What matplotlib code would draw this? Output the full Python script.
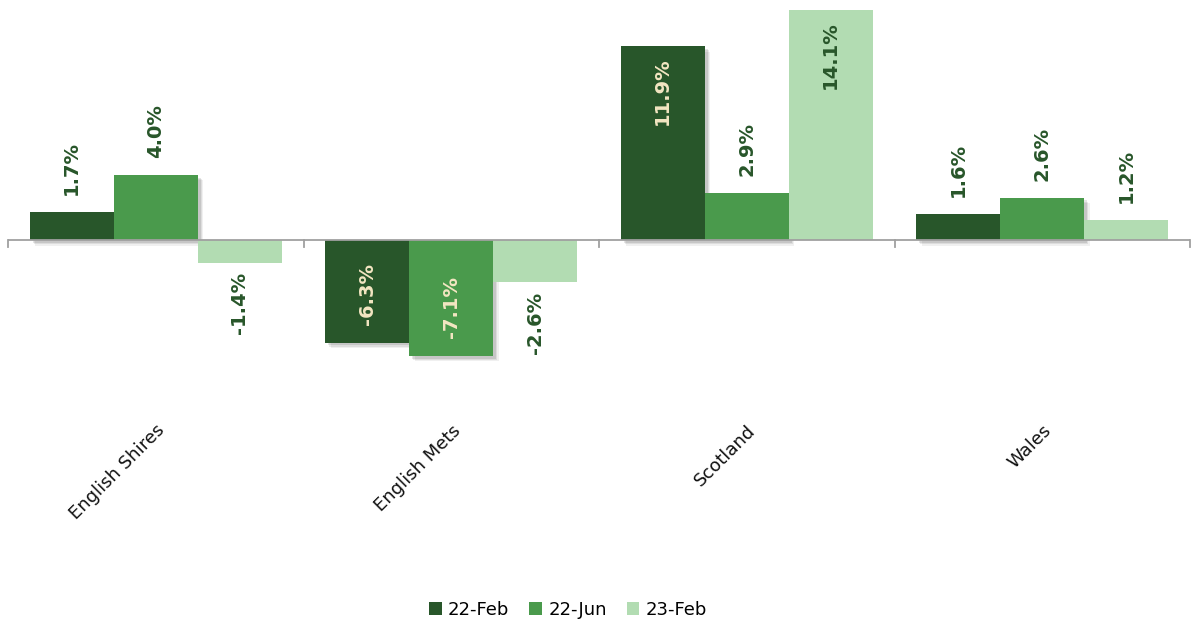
import matplotlib
matplotlib.use("Agg")
import matplotlib.pyplot as plt
import matplotlib.patheffects as pe
import numpy as np

categories = ["English Shires", "English Mets", "Scotland", "Wales"]
series_names = ["22-Feb", "22-Jun", "23-Feb"]
feb22 = [1.7, -6.3, 11.9, 1.6]
jun22 = [4.0, -7.1, 2.9, 2.6]
feb23 = [-1.4, -2.6, 14.1, 1.2]
series_values = [feb22, jun22, feb23]

colors = ["#28562a", "#4a9a4c", "#b2dcb2"]
label_dark = "#28562a"
label_cream = "#f3e6c2"

W, H = 1192, 623
fig = plt.figure(figsize=(W / 100, H / 100), dpi=100)
px_per = 16.3
top_px, bot_px = 0, 420
ymax = 240 / px_per
ymin = -(bot_px - 240) / px_per
ax = fig.add_axes([8 / W, 1 - bot_px / H, (1190 - 8) / W, (bot_px - top_px) / H])
ax.set_xlim(-0.5, 3.5)
ax.set_ylim(ymin, ymax)
for s in ax.spines.values():
    s.set_visible(False)
ax.set_yticks([])

x = np.arange(len(categories))
bw = 84 / 295.5
offsets = [-bw, 0, bw]
all_bars = []
for i, (vals, col) in enumerate(zip(series_values, colors)):
    bars = ax.bar(x + offsets[i], vals, width=bw, color=col, label=series_names[i],
                  zorder=3, linewidth=0)
    all_bars.append(bars)
    for xi, v in zip(x + offsets[i], vals):
        txt = f"{v:.1f}%"
        inside = abs(v) > 5
        if inside:
            tc = label_dark if i == 2 else label_cream
            dy = -11 if v > 0 else 18
            va = "top" if v > 0 else "bottom"
        else:
            tc = label_dark
            dy = 17 if v > 0 else -9
            va = "bottom" if v > 0 else "top"
        ax.annotate(txt, (xi, v), xytext=(0, dy), textcoords="offset pixels",
                    rotation=90, ha="center", va=va, color=tc, fontsize=14,
                    fontweight="bold", zorder=5)

ax.axhline(0, color="#a0a0a0", linewidth=1.3, zorder=4)
for b in np.arange(-0.5, 4.0, 1.0):
    ax.plot([b, b], [0, -7 / px_per], color="#a0a0a0", linewidth=1.3, zorder=4, clip_on=False)

ax.set_xticks(x)
ax.set_xticklabels(categories, rotation=45, ha="right", rotation_mode="anchor",
                   fontsize=13, color="#111111")
ax.tick_params(axis="x", length=0, pad=1)

leg = fig.legend(loc="center", bbox_to_anchor=(568 / W, 1 - 610 / H), ncol=3, frameon=False,
                 fontsize=13, handlelength=0.7, handleheight=0.7, handletextpad=0.35,
                 columnspacing=1.1)

effects = [pe.SimplePatchShadow(offset=(4, -4), shadow_rgbFace="#000000", alpha=0.06),
           pe.SimplePatchShadow(offset=(3, -3), shadow_rgbFace="#000000", alpha=0.08),
           pe.SimplePatchShadow(offset=(2, -2), shadow_rgbFace="#000000", alpha=0.10),
           pe.Normal()]
for bars in all_bars[:2]:
    for b in bars:
        b.set_path_effects(effects)

fig.savefig("out.png", dpi=100)
